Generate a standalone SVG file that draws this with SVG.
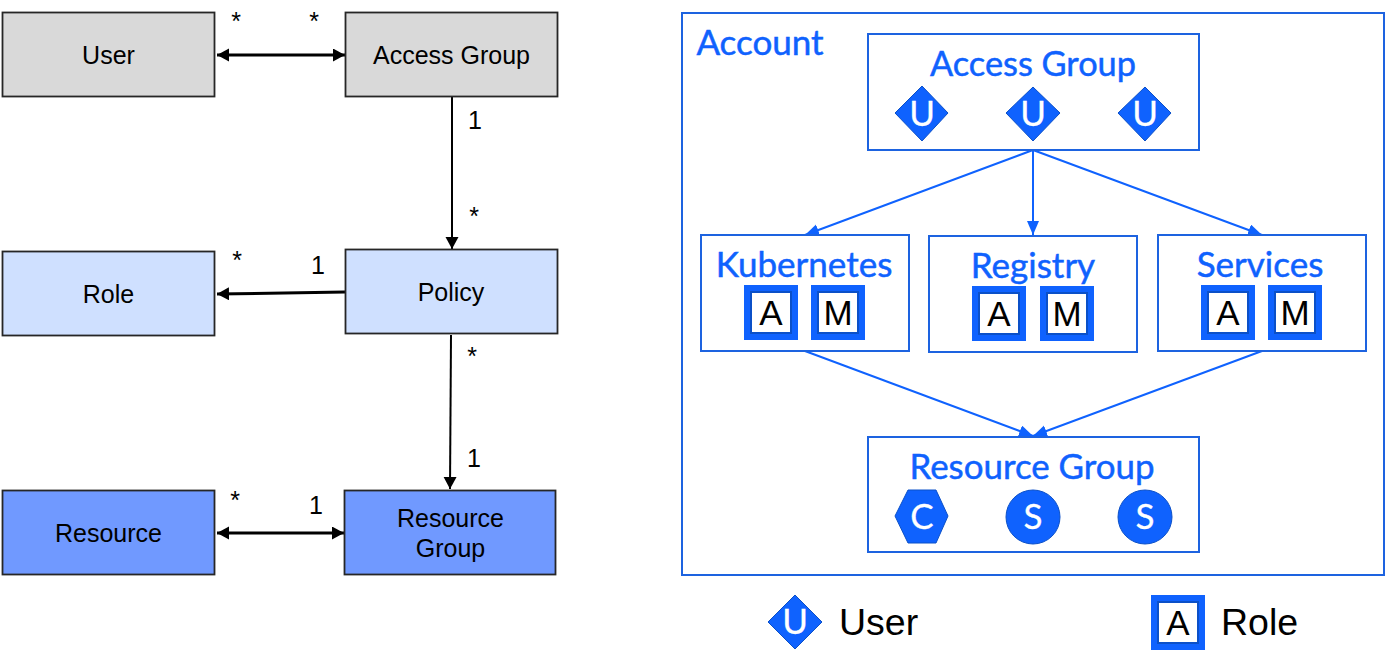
<svg xmlns="http://www.w3.org/2000/svg" width="1385" height="666" viewBox="0 0 1385 666">
<style>
.box{stroke:#262626;stroke-width:1.8}
.gray{fill:#d9d9d9}.light{fill:#cfe0ff}.mid{fill:#7099ff}
.t{font-family:"Liberation Sans",Arial,sans-serif;font-size:25px;fill:#000;text-anchor:middle}
.m{font-family:"Liberation Sans",Arial,sans-serif;font-size:25px;fill:#000;text-anchor:middle}
.b{fill:#fff;stroke:#1d63e0;stroke-width:2}
.bt{font-family:Lato,"Open Sans",sans-serif;font-size:35px;fill:#0f62fe;stroke:#0f62fe;stroke-width:.5;text-anchor:middle}
.ic{fill:#0f62fe;stroke:#0b50c8;stroke-width:1}
.w{font-family:Lato,"Open Sans",sans-serif;font-size:35px;fill:#fff;stroke:#fff;stroke-width:.3;text-anchor:middle}
.a0{fill:#0f62fe}
.a1{fill:#fff;stroke:#0b50c8;stroke-width:2}
.k{font-family:"Liberation Sans",Arial,sans-serif;font-size:35px;fill:#000;text-anchor:middle}
.lg{font-family:"Liberation Sans",Arial,sans-serif;font-size:37.500px;fill:#000}
.cb{stroke:#000;stroke-width:2;fill:none}
.cbt{stroke:#000;stroke-width:3;fill:none}
.cw{stroke:#0f62fe;stroke-width:2;fill:none}
</style>
<defs>
<marker id="ah" markerUnits="userSpaceOnUse" markerWidth="14" markerHeight="14" refX="12" refY="6.500" orient="auto-start-reverse"><path d="M0 0L12 6.500L0 13Z" fill="#000"/></marker>
<marker id="ab" markerUnits="userSpaceOnUse" markerWidth="15" markerHeight="13" refX="14" refY="6" orient="auto"><path d="M0 0L14 6L0 12Z" fill="#0f62fe"/></marker>
</defs>

<g id="connectors">
<path class="cbt" d="M217 55H345" marker-start="url(#ah)" marker-end="url(#ah)"/>
<path class="cb" d="M452 97V249" marker-end="url(#ah)"/>
<path class="cbt" d="M345 292L217 294" marker-end="url(#ah)"/>
<path class="cb" d="M451 335L450 489" marker-end="url(#ah)"/>
<path class="cbt" d="M217 533H344" marker-start="url(#ah)" marker-end="url(#ah)"/>
</g>

<g id="node-user"><rect class="box gray" x="2.500" y="12.500" width="212" height="84"/><text class="t" x="108.500" y="64">User</text></g>
<g id="node-access-group"><rect class="box gray" x="345.500" y="12.500" width="212" height="84"/><text class="t" x="451.500" y="64">Access Group</text></g>
<g id="node-role"><rect class="box light" x="2.500" y="251.500" width="212" height="84"/><text class="t" x="108.500" y="303">Role</text></g>
<g id="node-policy"><rect class="box light" x="345.500" y="249.500" width="212" height="84"/><text class="t" x="451" y="301">Policy</text></g>
<g id="node-resource"><rect class="box mid" x="2.500" y="490.500" width="212" height="84"/><text class="t" x="108.500" y="542">Resource</text></g>
<g id="node-resource-group"><rect class="box mid" x="344.500" y="490.500" width="211" height="84"/><text class="t" x="450.500" y="527">Resource</text><text class="t" x="450.500" y="557">Group</text></g>

<g id="labels">
<text class="m" x="236" y="30">*</text><text class="m" x="314" y="30">*</text>
<text class="m" x="475" y="129">1</text><text class="m" x="474" y="225">*</text>
<text class="m" x="237" y="269">*</text><text class="m" x="318" y="274">1</text>
<text class="m" x="472" y="365">*</text><text class="m" x="474" y="467">1</text>
<text class="m" x="235" y="509">*</text><text class="m" x="316" y="514">1</text>
</g>

<g id="node-account">
<rect x="682" y="13" width="702" height="562" fill="#fff" stroke="#1d63e0" stroke-width="2"/>
<text class="bt" x="760" y="55">Account</text>
</g>

<g id="connectors-account">
<path class="cw" d="M1033 150L805 235" marker-end="url(#ab)"/>
<path class="cw" d="M1033 150V235" marker-end="url(#ab)"/>
<path class="cw" d="M1033 150L1262 235" marker-end="url(#ab)"/>
<path class="cw" d="M805 351L1033 436" marker-end="url(#ab)"/>
<path class="cw" d="M1262 351L1033 436" marker-end="url(#ab)"/>
</g>

<g id="node-ag2">
<rect class="b" x="868" y="34" width="331" height="116"/>
<text class="bt" x="1033" y="76" textLength="206" lengthAdjust="spacingAndGlyphs">Access Group</text>
<path class="ic" d="M922 86L948 113L922 141L895 113Z"/><text class="w" x="922" y="126">U</text>
<path class="ic" d="M1033 87L1060 113L1033 141L1006 113Z"/><text class="w" x="1033" y="126">U</text>
<path class="ic" d="M1145 87L1171 113L1145 141L1118 113Z"/><text class="w" x="1145" y="126">U</text>
</g>

<g id="node-kubernetes">
<rect class="b" x="701" y="235" width="208" height="116"/>
<text class="bt" x="804" y="277">Kubernetes</text>
<rect class="a0" x="744" y="285" width="54" height="55"/><rect class="a1" x="751" y="292" width="40" height="41"/><text class="k" x="771" y="325">A</text>
<rect class="a0" x="811" y="285" width="54" height="55"/><rect class="a1" x="818" y="292" width="40" height="41"/><text class="k" x="838" y="325">M</text>
</g>
<g id="node-registry">
<rect class="b" x="929" y="236" width="208" height="116"/>
<text class="bt" x="1033" y="278">Registry</text>
<rect class="a0" x="972" y="286" width="54" height="55"/><rect class="a1" x="979" y="293" width="40" height="41"/><text class="k" x="999" y="326">A</text>
<rect class="a0" x="1040" y="286" width="54" height="55"/><rect class="a1" x="1047" y="293" width="40" height="41"/><text class="k" x="1067" y="326">M</text>
</g>
<g id="node-services">
<rect class="b" x="1158" y="235" width="208" height="116"/>
<text class="bt" x="1260" y="277">Services</text>
<rect class="a0" x="1201" y="285" width="54" height="55"/><rect class="a1" x="1208" y="292" width="40" height="41"/><text class="k" x="1228" y="325">A</text>
<rect class="a0" x="1268" y="285" width="54" height="55"/><rect class="a1" x="1275" y="292" width="40" height="41"/><text class="k" x="1295" y="325">M</text>
</g>

<g id="node-rg2">
<rect class="b" x="868" y="437" width="331" height="115"/>
<text class="bt" x="1032" y="479" textLength="245" lengthAdjust="spacingAndGlyphs">Resource Group</text>
<path class="ic" d="M908 490H936L948 516L936 543H908L895 516Z"/><text class="w" x="922" y="529">C</text>
<circle class="ic" cx="1033" cy="517" r="27"/><text class="w" x="1033" y="529">S</text>
<circle class="ic" cx="1145" cy="517" r="27"/><text class="w" x="1145" y="529">S</text>
</g>

<g id="legend-user">
<path class="ic" d="M795 595L822 622L795 649L768 622Z"/><text class="w" x="795" y="634">U</text>
<text class="lg" x="839" y="635">User</text>
</g>
<g id="legend-role">
<rect class="a0" x="1151" y="595" width="54" height="55"/><rect class="a1" x="1158" y="602" width="40" height="41"/><text class="k" x="1178" y="635">A</text>
<text class="lg" x="1221" y="635">Role</text>
</g>
</svg>
